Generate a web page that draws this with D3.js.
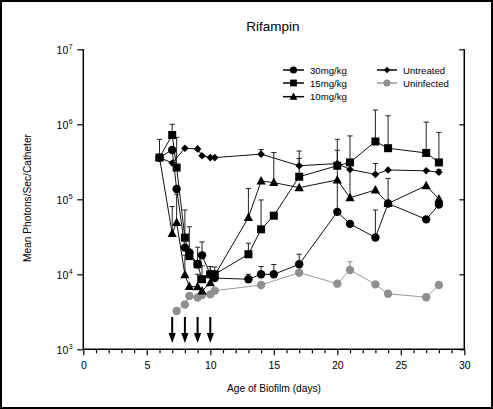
<!DOCTYPE html>
<html><head><meta charset="utf-8">
<script src="https://cdn.jsdelivr.net/npm/d3@7"></script>
<style>
body{margin:0;background:#fff;}
text{font-family:"Liberation Sans",Arial,Helvetica,sans-serif;fill:#000;}
</style></head>
<body>
<svg id="c" width="493" height="409"></svg>
<script>
const title = "Rifampin";
const xLabel = "Age of Biofilm (days)";
const yLabel = "Mean Photons/Sec/Catheter";
const xTicks = [0,5,10,15,20,25,30];
const yExponents = [3,4,5,6,7];
const arrowDays = [7,8,9,10];

const days30 = [6,7,7.35,8,8.35,9,9.35,10,10.35,13,14,15,17,20,21,23,24,27,28];
const vals30 = [3.6e5,4.55e5,1.37e5,2.27e4,1.95e4,1.36e4,1.79e4,1.0e4,8.9e3,8.6e3,1.0e4,1.0e4,1.36e4,6.8e4,4.7e4,3.1e4,8.8e4,5.4e4,8.5e4];
const err30  = [6.3e5,null,null,null,4.3e4,2.3e4,2.7e4,1.27e4,null,1.0e4,1.27e4,1.35e4,1.85e4,4.5e5,null,7.2e4,1.9e5,null,null];

const days15 = [6,7,7.35,8,8.35,9,9.35,10,10.35,13,14,15,17,20,21,23,24,27,28];
const vals15 = [3.6e5,7.2e5,2.65e5,3.08e4,1.75e4,1.36e4,8.6e3,1.0e4,1.0e4,1.85e4,3.98e4,6.05e4,2.0e5,2.8e5,3.1e5,5.9e5,4.8e5,4.15e5,3.1e5];
const err15  = [null,1.0e6,6.7e5,7.2e4,null,null,1.3e4,1.27e4,1.25e4,2.6e4,9.8e4,null,3.5e5,6.3e5,null,1.55e6,1.3e6,1.07e6,7.8e5];

const days10 = [6,7,7.35,8,8.35,9,9.35,10,13,14,15,17,20,21,23,24,27,28];
const vals10 = [3.6e5,3.5e4,4.9e4,9.9e3,6.9e3,6.8e3,6.0e3,7.7e3,5.7e4,1.75e5,1.67e5,1.43e5,1.81e5,1.05e5,1.33e5,8.8e4,1.52e5,1.01e5];
const err10  = [null,8.0e4,1.17e5,1.8e4,null,1.0e4,null,null,1.39e5,null,4.2e5,null,null,7.0e5,null,null,null,null];

const daysUT = [6,7,8,9,9.35,10,10.35,14,17,20,21,23,24,27,28];
const valsUT = [3.6e5,3.05e5,4.8e5,4.7e5,3.8e5,3.6e5,3.6e5,4.0e5,2.8e5,3.0e5,2.5e5,2.15e5,2.46e5,2.4e5,2.3e5];
const errUT  = [null,null,null,null,null,null,null,4.6e5,4.4e5,null,null,3.0e5,null,null,2.5e5];

const daysUI = [7.35,8,8.35,9,9.35,10,10.35,14,17,20,21,23,24,27,28];
const valsUI = [3.25e3,3.95e3,5.15e3,4.9e3,5.3e3,5.4e3,6.05e3,7.2e3,1.05e4,7.5e3,1.14e4,7.35e3,5.5e3,4.95e3,7.2e3];
const errUI  = [null,null,null,null,null,null,null,null,null,null,1.47e4,null,6.0e3,null,null];

const seriesNames = ["30mg/kg","15mg/kg","10mg/kg","Untreated","Uninfected"];

const series = [
  {name:seriesNames[0], days:days30, vals:vals30, err:err30, shape:"circle", color:"#000"},
  {name:seriesNames[1], days:days15, vals:vals15, err:err15, shape:"square", color:"#000"},
  {name:seriesNames[2], days:days10, vals:vals10, err:err10, shape:"triangle", color:"#000"},
  {name:seriesNames[3], days:daysUT, vals:valsUT, err:errUT, shape:"diamond", color:"#000"},
  {name:seriesNames[4], days:daysUI, vals:valsUI, err:errUI, shape:"circle", color:"#8f8f8f"}
];

const svg = d3.select("#c");
svg.append("rect").attr("x",1).attr("y",1).attr("width",491).attr("height",407)
  .attr("fill","#fff").attr("stroke","#000").attr("stroke-width",2);

const L=83.3, R=464.3, T=49.3, B=349.3;
const x = d3.scaleLinear().domain([0,30]).range([L,R]);
const y = d3.scaleLog().domain([1e3,1e7]).range([B,T]);

// title & labels
svg.append("text").attr("x",273).attr("y",31).attr("text-anchor","middle")
  .attr("font-size",13.5).text(title);
svg.append("text").attr("x",274).attr("y",392).attr("text-anchor","middle")
  .attr("font-size",10.2).text(xLabel);
svg.append("text").attr("transform","translate(31,198) rotate(-90)").attr("text-anchor","middle")
  .attr("font-size",10.2).text(yLabel);

// x axis
const xAxis = d3.axisBottom(x).tickValues(d3.range(0,31,1))
  .tickSize(4).tickFormat(d => xTicks.includes(d) ? d : "");
const gx = svg.append("g").attr("transform",`translate(0,${B})`).call(xAxis);
gx.select(".domain").attr("stroke","#000").attr("stroke-width",1.5).attr("d",`M${L},0H${R}`);
gx.selectAll(".tick line").attr("stroke","#000").attr("stroke-width",1.2)
  .attr("y2", d => xTicks.includes(d) ? 6 : 4);
gx.selectAll(".tick text").attr("font-size",10.5).attr("y",12)
  .style("font-family","Liberation Sans,Arial,sans-serif").attr("fill","#000");

// y axis left
const yAxis = d3.axisLeft(y).tickValues(yExponents.map(e=>Math.pow(10,e))).tickSize(6).tickFormat("");
const gy = svg.append("g").attr("transform",`translate(${L},0)`).call(yAxis);
gy.select(".domain").attr("stroke","#000").attr("stroke-width",1.5).attr("d",`M0,${T}V${B}`);
gy.selectAll(".tick line").attr("stroke","#000").attr("stroke-width",1.2);
gy.selectAll(".tick").each(function(d){
  const g = d3.select(this);
  const e = Math.round(Math.log10(d));
  g.append("text").attr("x",-15).attr("y",4.5).attr("text-anchor","end")
    .attr("font-size",10.5).text("10");
  g.append("text").attr("x",-14.5).attr("y",-1).attr("text-anchor","start")
    .attr("font-size",7).text(e);
});

// y axis right
const yAxisR = d3.axisLeft(y).tickValues(yExponents.map(e=>Math.pow(10,e))).tickSize(-5).tickFormat("");
const gyr = svg.append("g").attr("transform",`translate(${R},0)`).call(yAxisR);
gyr.select(".domain").attr("stroke","#000").attr("stroke-width",1.5).attr("d",`M0,${T}V${B}`);
gyr.selectAll(".tick line").attr("stroke","#000").attr("stroke-width",1.2).attr("x2",-5);

// marker symbol
function marker(g, shape, cx, cy, color, scale){
  const s = scale||1;
  if(shape==="circle"){
    g.append("circle").attr("cx",cx).attr("cy",cy).attr("r",4.2*s).attr("fill",color);
  } else if(shape==="square"){
    g.append("rect").attr("x",cx-4*s).attr("y",cy-4*s).attr("width",8*s).attr("height",8*s).attr("fill",color);
  } else if(shape==="triangle"){
    g.append("path").attr("d",`M${cx},${cy-5*s}L${cx+4.6*s},${cy+3.5*s}L${cx-4.6*s},${cy+3.5*s}Z`).attr("fill",color);
  } else if(shape==="diamond"){
    g.append("path").attr("d",`M${cx},${cy-3.8*s}L${cx+3.8*s},${cy}L${cx},${cy+3.8*s}L${cx-3.8*s},${cy}Z`).attr("fill",color);
  }
}

const plot = svg.append("g");
const line = d3.line().x(d=>x(d[0])).y(d=>y(d[1]));

// error bars
series.forEach(s=>{
  const eb = plot.append("g").attr("stroke", s.color==="#000" ? "#222" : s.color).attr("stroke-width",1);
  s.days.forEach((d,i)=>{
    const e = s.err[i];
    if(e==null) return;
    eb.append("line").attr("x1",x(d)).attr("x2",x(d)).attr("y1",y(s.vals[i])).attr("y2",y(e));
    eb.append("line").attr("x1",x(d)-2.6).attr("x2",x(d)+2.6).attr("y1",y(e)).attr("y2",y(e));
  });
});

// lines and markers (uninfected first so black on top)
[4,3,2,1,0].forEach(k=>{
  const s = series[k];
  const pts = s.days.map((d,i)=>[d,s.vals[i]]);
  plot.append("path").attr("d",line(pts)).attr("fill","none")
    .attr("stroke", s.color==="#000" ? "#111" : "#999").attr("stroke-width",1);
  const mg = plot.append("g");
  pts.forEach(p=>marker(mg, s.shape, x(p[0]), y(p[1]), s.color));
});

// arrows
arrowDays.forEach(d=>{
  const ax = x(d);
  svg.append("line").attr("x1",ax).attr("x2",ax).attr("y1",317).attr("y2",336)
    .attr("stroke","#000").attr("stroke-width",2);
  svg.append("path").attr("d",`M${ax-3.6},${333}L${ax+3.6},${333}L${ax},${343}Z`).attr("fill","#000");
});

// legend
const leg = svg.append("g");
const legPos = [
  {lx:283, ty:70, tx:310}, {lx:283, ty:83, tx:310}, {lx:283, ty:96.7, tx:310},
  {lx:377, ty:70, tx:403}, {lx:377, ty:83, tx:403}
];
series.forEach((s,i)=>{
  const p = legPos[i];
  const lineLen = (i<3) ? 21 : 20;
  leg.append("line").attr("x1",p.lx).attr("x2",p.lx+lineLen).attr("y1",p.ty).attr("y2",p.ty)
    .attr("stroke", s.color==="#000" ? "#000" : "#999").attr("stroke-width",1.5);
  marker(leg, s.shape, p.lx+lineLen/2, p.ty, s.color, 0.85);
  leg.append("text").attr("x",p.tx).attr("y",p.ty+3.5).attr("font-size",9.6).text(s.name);
});
</script>
</body></html>
